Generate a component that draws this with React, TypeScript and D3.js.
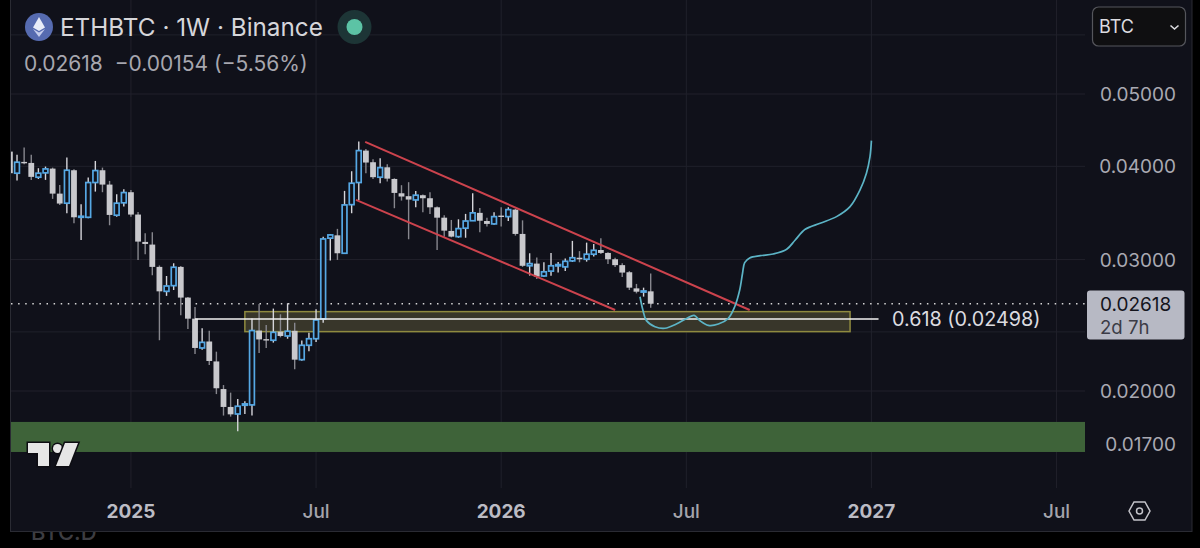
import React from 'react';
import * as d3 from 'd3';

// weekly ETHBTC candles
const opens = [
  0.04186, 0.03916, 0.04055, 0.04042, 0.03868, 0.0392, 0.03972, 0.03677, 0.0357, 0.03952,
  0.03418, 0.03418, 0.03805, 0.03952, 0.03781, 0.0344, 0.03574, 0.03693, 0.03447, 0.03168,
  0.03142, 0.02933, 0.0272, 0.02768, 0.02933, 0.02668, 0.025, 0.02284, 0.0233, 0.02191,
  0.02012, 0.01904, 0.01863, 0.01914, 0.01916, 0.0241, 0.02347, 0.02339, 0.02402, 0.0237,
  0.02408, 0.02203, 0.02303, 0.0235, 0.02498, 0.03205, 0.03233, 0.03059, 0.03554, 0.03805,
  0.04199, 0.04051, 0.03868, 0.03988, 0.03847, 0.03681, 0.03648, 0.03606, 0.03659, 0.03625,
  0.03525, 0.03414, 0.03277, 0.0322, 0.03305, 0.03382, 0.03465, 0.03379, 0.03349, 0.03436,
  0.03425, 0.035, 0.03247, 0.02943, 0.02963, 0.02852, 0.02895, 0.02942, 0.02933, 0.02988,
  0.03017, 0.03003, 0.0305, 0.0309, 0.03062, 0.03003, 0.02949, 0.02885, 0.02745, 0.02714, 0.0272,
];
const highs = [
  0.04186, 0.04144, 0.04238, 0.04144, 0.03977, 0.03997, 0.03984, 0.03777, 0.0411, 0.03964,
  0.03558, 0.03864, 0.04067, 0.03984, 0.03824, 0.03669, 0.03726, 0.03718, 0.03475, 0.03254,
  0.03264, 0.02946, 0.02852, 0.02966, 0.02942, 0.02673, 0.02592, 0.02427, 0.02408, 0.02258,
  0.02037, 0.0199, 0.01951, 0.01938, 0.02502, 0.02616, 0.02452, 0.02579, 0.02534, 0.02622,
  0.02469, 0.02337, 0.02394, 0.02573, 0.0322, 0.03247, 0.03298, 0.03708, 0.0394, 0.04318,
  0.04221, 0.04089, 0.04101, 0.04026, 0.03855, 0.03774, 0.03809, 0.03708, 0.03666, 0.03693,
  0.03533, 0.0344, 0.0339, 0.03397, 0.03454, 0.03681, 0.03518, 0.03414, 0.03472, 0.03526,
  0.03526, 0.03507, 0.03386, 0.03059, 0.0302, 0.02975, 0.03062, 0.02978, 0.03009, 0.03178,
  0.03079, 0.03161, 0.03148, 0.03205, 0.03068, 0.03017, 0.02966, 0.02895, 0.02783, 0.02751, 0.02873,
];
const lows = [
  0.03916, 0.03828, 0.04026, 0.03836, 0.03847, 0.03836, 0.03618, 0.03551, 0.03461, 0.03356,
  0.03187, 0.03407, 0.037, 0.03693, 0.03335, 0.03425, 0.03533, 0.03425, 0.02997, 0.0305,
  0.02858, 0.02339, 0.02682, 0.02731, 0.02526, 0.02422, 0.02242, 0.02271, 0.02167, 0.01981,
  0.01854, 0.01848, 0.01766, 0.01863, 0.01854, 0.02248, 0.02284, 0.02322, 0.0236, 0.0235,
  0.02139, 0.02196, 0.02261, 0.02327, 0.02469, 0.02991, 0.02997, 0.03052, 0.03461, 0.03606,
  0.03916, 0.03847, 0.03797, 0.03816, 0.03515, 0.03599, 0.03194, 0.03526, 0.03472, 0.03454,
  0.0309, 0.0322, 0.03213, 0.03209, 0.03209, 0.03382, 0.03264, 0.03323, 0.03339, 0.03323,
  0.03379, 0.0323, 0.02933, 0.02855, 0.02825, 0.02846, 0.02855, 0.02882, 0.02895, 0.02978,
  0.02975, 0.02981, 0.03029, 0.03052, 0.0296, 0.02933, 0.02843, 0.02731, 0.02703, 0.02676, 0.02586,
];
const closes = [
  0.03916, 0.04051, 0.04038, 0.03872, 0.03916, 0.03968, 0.03677, 0.03566, 0.03952, 0.03418,
  0.03429, 0.03805, 0.03948, 0.03781, 0.03443, 0.0357, 0.03689, 0.03447, 0.03171, 0.03148,
  0.02933, 0.0272, 0.02765, 0.0293, 0.02668, 0.025, 0.02284, 0.02324, 0.02194, 0.02017,
  0.01904, 0.01861, 0.01908, 0.01922, 0.0241, 0.02345, 0.02339, 0.02397, 0.0237, 0.02405,
  0.02203, 0.02303, 0.0235, 0.0249, 0.03197, 0.03237, 0.03059, 0.03551, 0.03797, 0.04199,
  0.04047, 0.03868, 0.03984, 0.03851, 0.03685, 0.03644, 0.0361, 0.03659, 0.03625, 0.03525,
  0.03414, 0.0328, 0.0322, 0.03301, 0.03379, 0.03465, 0.03382, 0.03349, 0.03425, 0.03425,
  0.035, 0.03247, 0.02943, 0.02963, 0.02846, 0.02889, 0.02943, 0.02954, 0.02984, 0.03017,
  0.03003, 0.0305, 0.03087, 0.03062, 0.03003, 0.02949, 0.02882, 0.02751, 0.02717, 0.02723, 0.02618,
];

const priceTicks = [0.05, 0.04, 0.03, 0.02, 0.017];
const gridPrices = [0.06, 0.05, 0.04, 0.03, 0.024, 0.02, 0.017];
const timeBars = [17, 43, 69, 95, 121, 147];
const timeLabels = ['2025', 'Jul', '2026', 'Jul', '2027', 'Jul'];

// drawn projection, bar index and price
const pathBars = [88.5, 88.9, 89.4, 90.6, 92, 93.6, 95.1, 96.1, 96.9, 98.1, 99.5, 100.9, 101.8, 102.5, 102.9, 103.2, 103.9, 105.4, 107.2, 109.1, 110.3, 111.7, 113.8, 116.1, 118, 119.4, 120.3, 120.8, 121];
const pathPrices = [0.02675, 0.02568, 0.02485, 0.02439, 0.02427, 0.02459, 0.02503, 0.02526, 0.02485, 0.02449, 0.02459, 0.02503, 0.02594, 0.02731, 0.02876, 0.02972, 0.03015, 0.03036, 0.03052, 0.03097, 0.03187, 0.03294, 0.03356, 0.03425, 0.03532, 0.03719, 0.03916, 0.04122, 0.0433];

const channelUpper = [[49.9, 0.04313], [103.9, 0.02568]];
const channelLower = [[48.6, 0.03606], [85, 0.02568]];

const lastPrice = 0.02618;
const fibPrice = 0.02498;
const fibBars = [26, 122];
const zoneBars = [33, 118];
const zonePrices = [0.02555, 0.02402];
const supportPrices = [0.01818, 0.01657];

const BG = '#10111a';
const GRID = '#20212b';
const FONT = 'Inter, "Noto Sans", sans-serif';

const x = d3.scaleLinear().domain([0, 100]).range([9.9, 721.9]);
const y = d3.scaleLog().domain([0.02, 0.05]).range([391, 94]);

const plotLeft = 11;
const plotRight = 1085;

export default function App() {
  const curve = d3
    .line<number>()
    .x((_, i) => x(pathBars[i]))
    .y((d) => y(d))
    .curve(d3.curveCatmullRom.alpha(0.5));

  return (
    <div style={{ position: 'absolute', left: 0, top: 0, width: 1200, height: 548, overflow: 'hidden', background: '#000' }}>
      <svg width={1200} height={548} style={{ display: 'block', fontFamily: FONT }}>
        <defs>
          <clipPath id="plot">
            <rect x={plotLeft} y={0} width={plotRight - plotLeft} height={488} />
          </clipPath>
        </defs>

        {/* next pane peeking out under the chart */}
        <text x={31} y={540} fontSize={22} fontWeight={500} fill="#3d3d42">BTC.D</text>

        <rect x={10.5} y={-2} width={1181.5} height={533.5} fill={BG} stroke="#2a2b33" />

        {gridPrices.map((p) => (
          <line key={p} x1={plotLeft} x2={plotRight} y1={y(p)} y2={y(p)} stroke={GRID} />
        ))}
        {timeBars.map((b) => (
          <line key={b} x1={x(b)} x2={x(b)} y1={0} y2={488} stroke={GRID} />
        ))}

        <rect x={plotLeft} y={y(supportPrices[0])} width={plotRight - plotLeft} height={y(supportPrices[1]) - y(supportPrices[0])} fill="#3e6339" />

        <rect
          x={x(zoneBars[0])}
          y={y(zonePrices[0])}
          width={x(zoneBars[1]) - x(zoneBars[0])}
          height={y(zonePrices[1]) - y(zonePrices[0])}
          fill="#38362a"
          stroke="#8f8a3f"
          strokeWidth={1.5}
        />

        <line x1={plotLeft} x2={1087} y1={y(lastPrice)} y2={y(lastPrice)} stroke="#d6d6d6" strokeWidth={1.5} strokeDasharray="1.5 5.6" />

        <g clipPath="url(#plot)">
          {closes.map((c, i) => {
            const up = c >= opens[i];
            const top = y(Math.max(c, opens[i]));
            const bottom = y(Math.min(c, opens[i]));
            const cx = x(i);
            return (
              <g key={i}>
                <line x1={cx} x2={cx} y1={y(highs[i])} y2={y(lows[i])} stroke={up ? '#d5d5da' : '#87878e'} strokeWidth={1.4} />
                {up ? (
                  <rect x={cx - 2.4} y={top} width={4.8} height={Math.max(bottom - top, 1)} fill={BG} stroke="#56a8e4" strokeWidth={1.7} />
                ) : (
                  <rect x={cx - 2.9} y={top} width={5.8} height={Math.max(bottom - top, 1.4)} fill="#c9c9cd" />
                )}
              </g>
            );
          })}
        </g>

        <line x1={x(fibBars[0])} x2={x(fibBars[1])} y1={y(fibPrice)} y2={y(fibPrice)} stroke="#f2f2f2" strokeWidth={1.6} />
        <text x={892} y={326} fontSize={19.8} fill="#dcdce0">0.618 (0.02498)</text>

        {[channelUpper, channelLower].map((seg, i) => (
          <line key={i} x1={x(seg[0][0])} y1={y(seg[0][1])} x2={x(seg[1][0])} y2={y(seg[1][1])} stroke="#cc434d" strokeWidth={2} />
        ))}

        <path d={curve(pathPrices) ?? ''} fill="none" stroke="#5cb4c6" strokeWidth={1.7} />

        {/* TradingView mark */}
        <g fill="#e6e6e6" stroke="#0d0d12" strokeWidth={3} style={{ paintOrder: 'stroke' }}>
          <path d="M28 443h21v23h-11v-13h-10z" />
          <circle cx={57.5} cy={448.5} r={4.5} />
          <path d="M65 443h13l-9 23h-13z" />
        </g>

        {/* header */}
        <circle cx={39} cy={27} r={14} fill="#566bb0" />
        <path d="M39 17l6 10.5-6 3.5-6-3.5z" fill="#e8ecf8" />
        <path d="M39 32.5l6-3.5-6 8-6-8z" fill="#c5cdec" />
        <text x={60} y={36} fontSize={24.3} fill="#d6d6da">ETHBTC · 1W · Binance</text>
        <circle cx={354.5} cy={27} r={17} fill="#1d3536" />
        <circle cx={354.5} cy={27} r={8} fill="#5cc3a5" />
        <text x={24} y={71} fontSize={21} fill="#a7a7af" style={{ whiteSpace: 'pre' }}>0.02618  −0.00154 (−5.56%)</text>

        {/* currency button */}
        <rect x={1092.5} y={7} width={93} height={39} rx={6} fill="#0f0f11" stroke="#55565c" strokeWidth={1.2} />
        <text x={1099} y={33} fontSize={18} fill="#dcdce0">BTC</text>
        <path d="M1170.5 25.5l4 3.5 4-3.5" fill="none" stroke="#dcdce0" strokeWidth={1.6} />

        {/* price axis */}
        {priceTicks.map((p) => (
          <text key={p} x={1176} y={y(p) + 7} textAnchor="end" fontSize={19} fill="#a9a9b2">
            {p.toFixed(5)}
          </text>
        ))}

        <rect x={1087} y={290.5} width={97.5} height={49} rx={3} fill="#b7b9c4" />
        <text x={1100} y={311} fontSize={19} fill="#14141c">0.02618</text>
        <text x={1100} y={333.5} fontSize={18.6} fill="#3c3c46">2d 7h</text>

        {/* time axis */}
        {timeBars.map((b, i) => (
          <text
            key={b}
            x={x(b)}
            y={518}
            textAnchor="middle"
            fontSize={19}
            fontWeight={i % 2 === 0 ? 700 : 500}
            fill={i % 2 === 0 ? '#bcbcc4' : '#a4a4ac'}
          >
            {timeLabels[i]}
          </text>
        ))}

        {/* chart settings icon */}
        <path d="M1129 511l5-9h11l5 9-5 9h-11z" fill="none" stroke="#c4c4ca" strokeWidth={1.5} />
        <circle cx={1139.5} cy={511} r={3} fill="none" stroke="#c4c4ca" strokeWidth={1.5} />
      </svg>
    </div>
  );
}
